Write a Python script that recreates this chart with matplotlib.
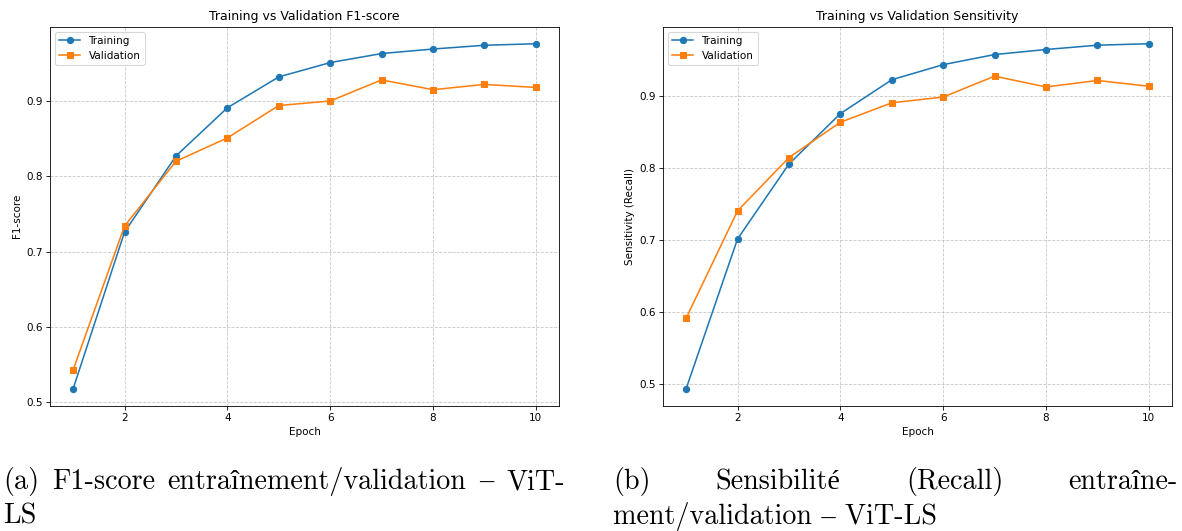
import matplotlib
matplotlib.use("Agg")
from matplotlib import pyplot as plt

epochs = [1, 2, 3, 4, 5, 6, 7, 8, 9, 10]

f1_train = [0.518, 0.726, 0.827, 0.891, 0.932, 0.951, 0.963, 0.969, 0.974, 0.976]
f1_val = [0.543, 0.734, 0.820, 0.851, 0.894, 0.900, 0.928, 0.915, 0.922, 0.918]

sens_train = [0.494, 0.702, 0.806, 0.876, 0.923, 0.944, 0.958, 0.965, 0.971, 0.973]
sens_val = [0.592, 0.741, 0.815, 0.864, 0.891, 0.899, 0.928, 0.913, 0.922, 0.914]

cap_a = ["(a) F1-score entraînement/validation – ViT-", "LS"]
cap_b = ["(b) Sensibilité (Recall) entraîne-", "ment/validation – ViT-LS"]

DPI = 75
fig = plt.figure(figsize=(1182 / DPI, 531 / DPI), dpi=DPI)

ax1 = fig.add_axes([50 / 1182, 1 - 406 / 531, 509 / 1182, 379.5 / 531])
ax2 = fig.add_axes([663 / 1182, 1 - 406 / 531, 509 / 1182, 379.5 / 531])


def draw_panel(ax, train, val, title, ylabel):
    ax.plot(epochs, train, marker='o', label='Training')
    ax.plot(epochs, val, marker='s', label='Validation')
    ax.set_title(title)
    ax.set_xlabel('Epoch')
    ax.set_ylabel(ylabel)
    ax.legend(loc='upper left')
    ax.grid(True, linestyle='--', alpha=0.7)


draw_panel(ax1, f1_train, f1_val, 'Training vs Validation F1-score', 'F1-score')
draw_panel(ax2, sens_train, sens_val, 'Training vs Validation Sensitivity', 'Sensitivity (Recall)')

# captions, first line justified like LaTeX does it
cap_font = dict(family=['cmr10', 'Liberation Serif'], fontsize=27)
renderer = fig.canvas.get_renderer()


def justified(line, x0, x1, y):
    words = line.split(' ')
    texts = [fig.text(x0 / 1182, y, w, va='baseline', ha='left', **cap_font) for w in words]
    widths = [t.get_window_extent(renderer).width for t in texts]
    gap = (x1 - x0 - sum(widths)) / max(len(words) - 1, 1)
    x = x0
    for t, w in zip(texts, widths):
        t.set_x(x / 1182)
        x += w + gap


for lines, x0, x1 in [(cap_a, 3, 565), (cap_b, 613, 1178)]:
    justified(lines[0], x0, x1, 1 - 489 / 531)
    fig.text(x0 / 1182, 1 - 524 / 531, lines[1], va='baseline', ha='left', **cap_font)

fig.savefig('out.png', dpi=DPI)
